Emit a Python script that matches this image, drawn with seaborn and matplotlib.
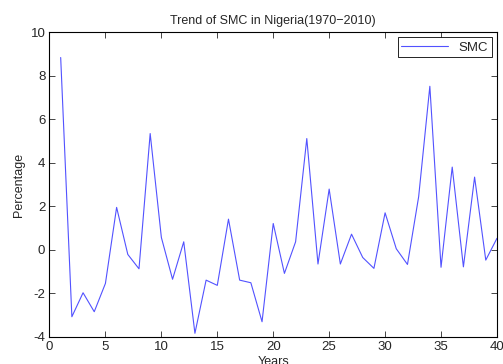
import matplotlib
matplotlib.use("Agg")
import matplotlib.pyplot as plt
import seaborn as sns
import pandas as pd

years = list(range(1, 41))
smc = [8.83, -3.07, -1.97, -2.84, -1.54, 1.95, -0.21, -0.87, 5.34, 0.57,
       -1.35, 0.37, -3.83, -1.39, -1.63, 1.41, -1.39, -1.51, -3.30, 1.21,
       -1.08, 0.37, 5.11, -0.65, 2.79, -0.65, 0.72, -0.35, -0.85, 1.70,
       0.05, -0.67, 2.44, 7.51, -0.80, 3.80, -0.78, 3.34, -0.47, 0.53]
xticks = list(range(0, 45, 5))
yticks = list(range(-4, 12, 2))

sns.set_style("ticks")
plt.rcParams['font.family'] = ['Liberation Sans', 'DejaVu Sans']
plt.rcParams['axes.unicode_minus'] = False

df = pd.DataFrame({"Years": years, "SMC": smc})

fig = plt.figure(figsize=(5.03, 3.64), dpi=100)
ax = fig.add_axes([0.0984, 0.0742, 0.8896, 0.8378])
sns.lineplot(data=df, x="Years", y="SMC", ax=ax, color="#5252ff", linewidth=0.8, label="SMC")

ax.set_xlim(0, 40)
ax.set_ylim(-4, 10)
ax.set_xticks(xticks)
ax.set_yticks(yticks)
ax.tick_params(direction='in', top=True, right=True, labelsize=9.5, length=4, width=0.6, pad=3)
for s in ax.spines.values():
    s.set_visible(True)
    s.set_linewidth(0.8)
    s.set_color('black')
ax.set_title("Trend of SMC in Nigeria(1970\u22122010)", fontsize=9, pad=6)
ax.set_xlabel("Years", fontsize=9, labelpad=2)
ax.set_ylabel("Percentage", fontsize=9, labelpad=4)
leg = ax.legend(loc='upper right', fontsize=9.5, frameon=True, fancybox=False,
                edgecolor='black', framealpha=1, handlelength=3.5,
                borderaxespad=0.4, borderpad=0.3)
leg.get_frame().set_linewidth(0.6)

fig.savefig("out.png", dpi=100)
